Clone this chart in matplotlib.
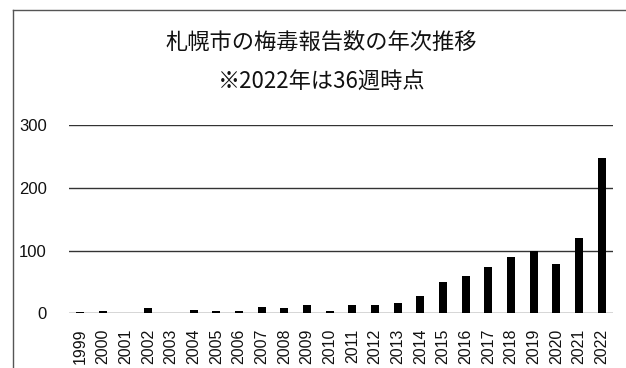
import matplotlib
matplotlib.use("Agg")
import matplotlib.pyplot as plt
from matplotlib.lines import Line2D

years = [str(y) for y in range(1999, 2023)]
counts = [2, 3, 1, 9, 0, 6, 4, 3, 10, 9, 14, 4, 14, 14, 16, 27, 50, 60, 74, 90, 99, 79, 120, 248]
yticks = [0, 100, 200, 300]
title1 = "札幌市の梅毒報告数の年次推移"
title2 = "※2022年は36週時点"

W, H = 626, 368
fig = plt.figure(figsize=(W / 100, H / 100), dpi=100)
fig.patch.set_facecolor("white")

left, right = 69 / W, 613 / W
bottom, top = 1 - 313.3 / H, 1 - 125 / H
ax = fig.add_axes([left, bottom, right - left, top - bottom])

x = list(range(len(years)))
ax.bar(x, counts, width=0.36, color="black", zorder=3)
ax.set_xlim(-0.5, len(years) - 0.5)
ax.set_ylim(0, 300)
ax.tick_params(axis="y", length=0, pad=16, labelsize=12)
ax.tick_params(axis="x", length=0, pad=11, labelsize=11.5)
ax.set_yticks(yticks)
ax.set_yticklabels([str(v) for v in yticks])
ax.set_xticks(x)
ax.set_xticklabels(years, rotation=90)
for lab in ax.get_xticklabels() + ax.get_yticklabels():
    lab.set_fontfamily("Liberation Sans")
    lab.set_color("#111111")
for s in ax.spines.values():
    s.set_visible(False)
ax.yaxis.grid(True, color="#333333", linewidth=1.0, zorder=1)
ax.set_axisbelow(True)

fig.text(321 / W, 1 - 42 / H, title1, ha="center", va="center", fontsize=16,
         family=["Noto Sans CJK JP", "DejaVu Sans"], color="#111111")
fig.text(322 / W, 1 - 82 / H, title2, ha="center", va="center", fontsize=16,
         family=["Noto Sans CJK JP", "DejaVu Sans"], color="#111111")

# outer frame (left and top)
fig.add_artist(Line2D([13 / W, 13 / W], [0, 1 - 10 / H], transform=fig.transFigure,
                      color="#555555", linewidth=1.0))
fig.add_artist(Line2D([13 / W, 1], [1 - 10 / H, 1 - 10 / H], transform=fig.transFigure,
                      color="#555555", linewidth=1.0))

fig.savefig("out.png", dpi=100)
